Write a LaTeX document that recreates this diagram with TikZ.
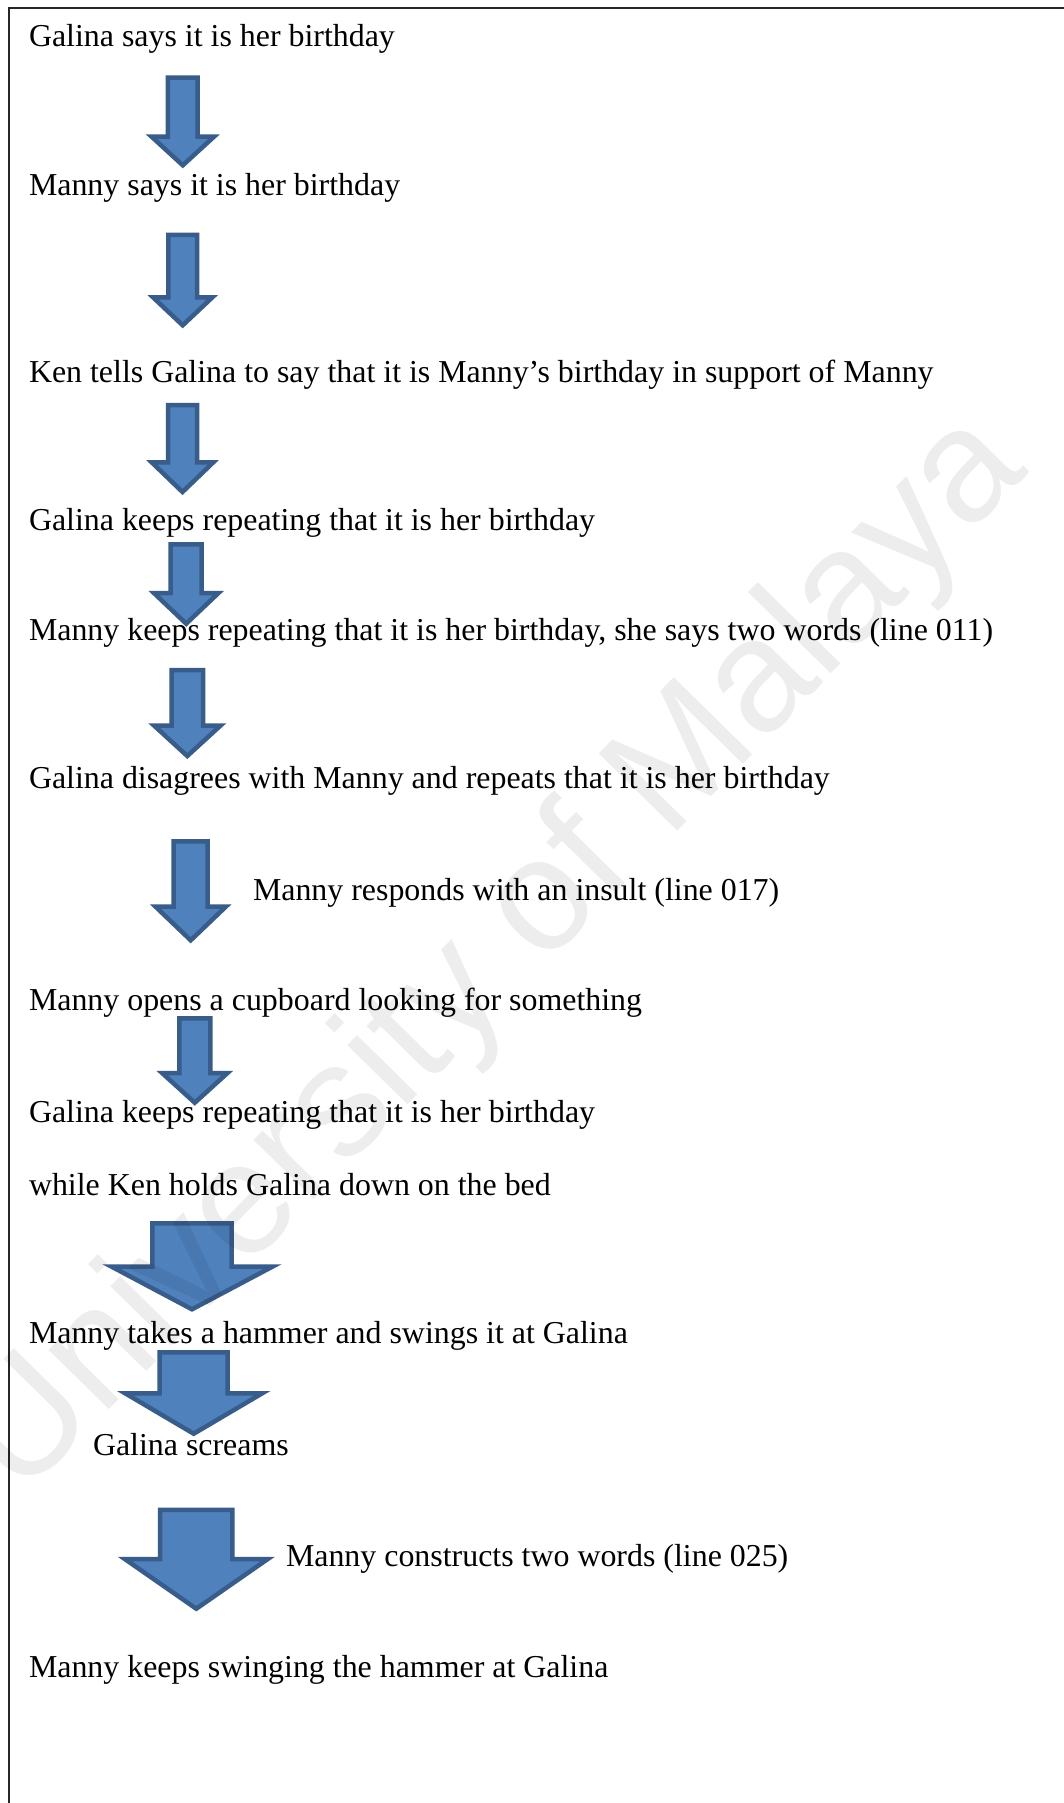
\documentclass[tikz,border=0pt]{standalone}
\usepackage{fontspec}
\setmainfont{Liberation Serif}
\newfontfamily\wmfont{Liberation Sans}
\definecolor{arrowfill}{HTML}{4F81BD}
\definecolor{arrowline}{HTML}{385D8A}

% Block arrow pointing down, given by its outer extents:
% #1 name, #2 centre x, #3 top, #4 shaft half width, #5 head top, #6 head half width, #7 tip
\newcommand{\downblock}[7]{%
  \path[arrowbody]
    (#2-#4+2.3, #3+2.3) -- (#2+#4-2.3, #3+2.3) -- (#2+#4-2.3, #5+2.3)
    -- (#2+#6-4, #5+2.3) -- (#2, #7-3) -- (#2-#6+4, #5+2.3)
    -- (#2-#4+2.3, #5+2.3) -- cycle;
  \coordinate (#1) at (#2, #7);
}

\begin{document}
\begin{tikzpicture}[x=1pt, y=-1pt,
  arrowbody/.style={fill=arrowfill, draw=arrowline, line width=4.5pt, miter limit=10},
  lbl/.style={anchor=base west, inner sep=0pt, outer sep=0pt, text=black,
              font=\fontsize{31.9}{38}\selectfont},
  frameline/.style={draw=black!85, line width=2pt},
  watermark/.style={anchor=base east, inner sep=0pt, rotate=45.5, text=black,
              text opacity=0.07, font=\wmfont\fontsize{160}{160}\selectfont}]
\useasboundingbox (0,0) rectangle (1064,1803);
\fill[white] (0,0) rectangle (1064,1803);
\clip (0,0) rectangle (1064,1803);

% frame
\draw[frameline] (8.5,1803) -- (8.5,8.5) -- (1064,8.5);

% arrows
\downblock{a1}{182.8}{75.3}{17.2}{134.3}{35.3}{168.3}
\downblock{a2}{182.7}{232.7}{16.7}{295}{33.7}{328.3}
\downblock{a3}{182.5}{402.7}{16.8}{460}{34.8}{495}
\downblock{a4}{186.2}{542}{17.8}{590.7}{36.3}{626.7}
\downblock{a5}{187.3}{667.7}{18}{723.3}{37.2}{759}
\downblock{a6}{190.7}{839}{19.3}{904.3}{39.2}{943.3}
\downblock{a7}{194.8}{1016}{17.8}{1070.7}{36.7}{1105.7}
\downblock{a8}{192}{1221}{42}{1264.3}{84.5}{1312.3}
\downblock{a9}{193.7}{1350}{36.3}{1391}{72.5}{1436.7}
\downblock{a10}{196.3}{1507.5}{38.4}{1556.7}{75.5}{1611.7}

% texts
\node[lbl] (t1)  at (29,47)   {Galina says it is her birthday};
\node[lbl] (t2)  at (29,196)  {Manny says it is her birthday};
\node[lbl] (t3)  at (29,382)  {Ken tells Galina to say that it is Manny’s birthday in support of Manny};
\node[lbl] (t4)  at (29,530)  {Galina keeps repeating that it is her birthday};
\node[lbl] (t5)  at (29,640)  {Manny keeps repeating that it is her birthday, she says two words (line 011)};
\node[lbl] (t6)  at (29,788)  {Galina disagrees with Manny and repeats that it is her birthday};
\node[lbl] (t7)  at (253,900) {Manny responds with an insult (line 017)};
\node[lbl] (t8)  at (29,1010) {Manny opens a cupboard looking for something};
\node[lbl] (t9)  at (29,1122) {Galina keeps repeating that it is her birthday};
\node[lbl] (t10) at (29,1195) {while Ken holds Galina down on the bed};
\node[lbl] (t11) at (29,1343) {Manny takes a hammer and swings it at Galina};
\node[lbl] (t12) at (93,1455) {Galina screams};
\node[lbl] (t13) at (286,1566) {Manny constructs two words (line 025)};
\node[lbl] (t14) at (29,1677) {Manny keeps swinging the hammer at Galina};

% watermark
\node[watermark] (wm) at (1030,472) {University of Malaya};
\end{tikzpicture}
\end{document}
